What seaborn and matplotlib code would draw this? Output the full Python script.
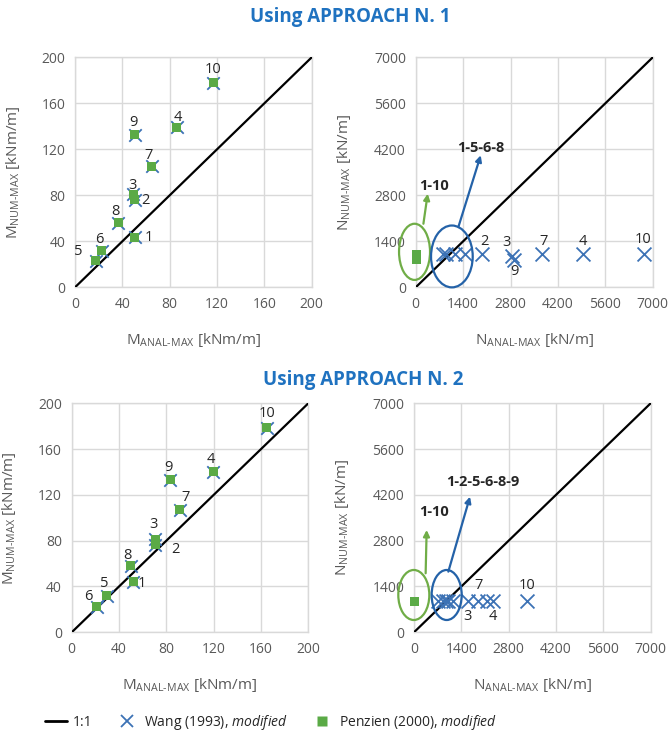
import matplotlib
matplotlib.use("Agg")
import matplotlib.pyplot as plt
import seaborn as sns
import pandas as pd
from matplotlib.patches import Ellipse
from matplotlib.lines import Line2D

# ---------------- data ----------------
case_ids = [1, 2, 3, 4, 5, 6, 7, 8, 9, 10]

# Approach 1 - bending moments
m_anal_a1 = [50.7, 50.7, 49.3, 85.9, 17.5, 22.5, 64.8, 36.6, 50.7, 116.9]
m_num_a1 = [43.5, 76.0, 81.0, 139.0, 22.9, 31.9, 105.5, 56.2, 132.5, 178.0]
# Approach 2 - bending moments
m_anal_a2 = [52.1, 70.4, 70.4, 119.7, 29.6, 21.1, 91.5, 50.1, 83.1, 164.8]
m_num_a2 = [44.3, 76.3, 81.2, 140.3, 31.7, 22.4, 106.8, 57.9, 133.0, 178.7]

# Approach 1 - axial forces
n_anal_wang_a1 = [800, 1950, 2850, 4950, 900, 1150, 3720, 1450, 2900, 6730]
n_anal_penz_a1 = [30, 30, 30, 30, 30, 30, 30, 30, 30, 30]
n_num_a1 = [1000, 1010, 960, 1000, 1000, 1000, 1000, 1000, 840, 1000]
# Approach 2 - axial forces
n_anal_wang_a2 = [720, 867, 1607, 2346, 940, 1015, 1902, 1163, 2151, 3333]
n_anal_penz_a2 = [30, 30, 30, 30, 30, 30, 30, 30, 30, 30]
n_num_a2 = [950, 950, 950, 950, 950, 950, 950, 950, 950, 950]

m_ticks = [0, 40, 80, 120, 160, 200]
n_ticks = [0, 1400, 2800, 4200, 5600, 7000]

titles = ["Using APPROACH N. 1", "Using APPROACH N. 2"]
m_xlabel = r"M$_{\mathrm{ANAL}\text{-}\mathrm{MAX}}$ [kNm/m]"
m_ylabel = r"M$_{\mathrm{NUM}\text{-}\mathrm{MAX}}$ [kNm/m]"
n_xlabel = r"N$_{\mathrm{ANAL}\text{-}\mathrm{MAX}}$ [kN/m]"
n_ylabel = r"N$_{\mathrm{NUM}\text{-}\mathrm{MAX}}$ [kN/m]"
legend_labels = ["1:1", r"Wang (1993), $\mathit{modified}$", r"Penzien (2000), $\mathit{modified}$"]

# ---------------- style ----------------
sns.set_theme(style="white")
plt.rcParams["font.family"] = ["Open Sans", "DejaVu Sans"]
plt.rcParams["mathtext.fontset"] = "custom"
plt.rcParams["mathtext.rm"] = "Open Sans"
plt.rcParams["mathtext.it"] = "Open Sans:italic"
plt.rcParams["mathtext.bf"] = "Open Sans:bold"

BLUE = "#3C72B5"
GREEN = "#5AAA46"
ELL_GREEN = "#70AD47"
ELL_BLUE = "#2462A8"
GRID = "#D9D9D9"
TXT = "#595959"
NUMC = "#262626"
TITLE_BLUE = "#1F72C0"

fig = plt.figure(figsize=(6.69, 7.39), dpi=100)

pos = {
    "tl": [0.1121, 0.6112, 0.3538, 0.3112],
    "tr": [0.6214, 0.6112, 0.3543, 0.3112],
    "bl": [0.1072, 0.1444, 0.3537, 0.3099],
    "br": [0.6188, 0.1444, 0.3538, 0.3099],
}

# label offsets in pixels (dx, dy)
off_m1 = {10: (0, 13), 9: (-2, 12), 4: (1, 10), 7: (-3, 11), 3: (-1, 9),
          2: (10, -1), 8: (-3, 11), 1: (14, 0), 6: (-2, 11), 5: (-17, 9)}
off_m2 = {10: (0, 14), 4: (-3, 12), 9: (-2, 12), 7: (6, 12), 3: (-2, 15),
          2: (20, -5), 8: (-4, 10), 1: (9, -2), 5: (-2, 12), 6: (-8, 10)}
off_n1 = {2: (3, 13), 3: (-6, 13), 9: (1, -12), 7: (2, 13), 4: (-1, 13), 10: (-1, 15)}
off_n2 = {7: (0, 16), 3: (-1, -15), 4: (0, -15), 10: (0, 16)}


def style_axes(ax, ticks, xlabel, ylabel, ylab_x):
    lim = ticks[-1]
    ax.set_xlim(0, lim)
    ax.set_ylim(0, lim)
    ax.set_xticks(ticks)
    ax.set_yticks(ticks)
    ax.grid(True, color=GRID, lw=1.0)
    ax.set_axisbelow(True)
    for s in ax.spines.values():
        s.set_color(GRID)
        s.set_linewidth(1.0)
    ax.tick_params(axis="both", length=0, labelsize=10, labelcolor=TXT, pad=7)
    ax.set_xlabel(xlabel, fontsize=11, color=TXT)
    ax.set_ylabel(ylabel, fontsize=11, color=TXT)
    ax.xaxis.set_label_coords(0.5, -0.19)
    ax.yaxis.set_label_coords(ylab_x, 0.5)


def one_to_one(ax, lim):
    sns.lineplot(x=[0, lim], y=[0, lim], ax=ax, color="black", lw=1.6, zorder=3)


def put_labels(ax, xs, ys, offs):
    for cid, x, y in zip(case_ids, xs, ys):
        if cid in offs:
            dx, dy = offs[cid]
            ax.annotate(str(cid), (x, y), xytext=(dx * 0.72, dy * 0.72),
                        textcoords="offset points", ha="center", va="center",
                        fontsize=10.5, color=NUMC, zorder=6)


def m_panel(key, xs, ys, offs):
    ax = fig.add_axes(pos[key])
    df = pd.DataFrame({"x": xs, "y": ys})
    one_to_one(ax, 200)
    sns.scatterplot(data=df, x="x", y="y", ax=ax, marker="x", color=BLUE,
                    s=80, linewidth=1.3, zorder=4)
    sns.scatterplot(data=df, x="x", y="y", ax=ax, marker="s", color=GREEN,
                    s=42, edgecolor="none", zorder=5)
    put_labels(ax, xs, ys, offs)
    style_axes(ax, m_ticks, m_xlabel, m_ylabel, -0.225)
    return ax


def n_panel(key, xw, xp, ys, offs, ells, arrows):
    ax = fig.add_axes(pos[key])
    one_to_one(ax, 7000)
    dfw = pd.DataFrame({"x": xw, "y": ys})
    dfp = pd.DataFrame({"x": xp, "y": ys})
    sns.scatterplot(data=dfw, x="x", y="y", ax=ax, marker="x", color=BLUE,
                    s=100, linewidth=1.3, zorder=4)
    sns.scatterplot(data=dfp, x="x", y="y", ax=ax, marker="s", color=GREEN,
                    s=42, edgecolor="none", zorder=5, clip_on=False)
    put_labels(ax, xw, ys, offs)
    for (cx, cy, w, h, col) in ells:
        ax.add_patch(Ellipse((cx, cy), w, h, fill=False, ec=col, lw=1.6,
                             zorder=6, clip_on=False))
    for (x0, y0, x1, y1, col, txt, tx, ty) in arrows:
        ax.annotate("", xy=(x1, y1), xytext=(x0, y0),
                    arrowprops=dict(arrowstyle="-|>", color=col, lw=1.6,
                                    mutation_scale=9, shrinkA=0, shrinkB=0),
                    zorder=6)
        ax.text(tx, ty, txt, ha="center", va="center", fontsize=10.5,
                fontweight="bold", color=NUMC, zorder=7)
    style_axes(ax, n_ticks, n_xlabel, n_ylabel, -0.265)
    return ax


m_panel("tl", m_anal_a1, m_num_a1, off_m1)
m_panel("bl", m_anal_a2, m_num_a2, off_m2)

n_panel("tr", n_anal_wang_a1, n_anal_penz_a1, n_num_a1, off_n1,
        ells=[(-35, 1080, 915, 1710, ELL_GREEN), (1068, 940, 1231, 1883, ELL_BLUE)],
        arrows=[(227, 1935, 354, 2850, ELL_GREEN, "1-10", 540, 3080),
                (1258, 1831, 1920, 4019, ELL_BLUE, "1-5-6-8", 1930, 4250)])
n_panel("br", n_anal_wang_a2, n_anal_penz_a2, n_num_a2, off_n2,
        ells=[(-5, 1140, 917, 1529, ELL_GREEN), (967, 1140, 888, 1529, ELL_BLUE)],
        arrows=[(345, 1804, 375, 3128, ELL_GREEN, "1-10", 580, 3680),
                (1016, 1854, 1657, 4146, ELL_BLUE, "1-2-5-6-8-9", 2030, 4580)])

fig.text(350 / 669, 1 - 17 / 739, titles[0], ha="center", va="center",
         fontsize=13.5, fontweight="bold", color=TITLE_BLUE)
fig.text(363 / 669, 1 - 380 / 739, titles[1], ha="center", va="center",
         fontsize=13.5, fontweight="bold", color=TITLE_BLUE)

handles = [
    Line2D([], [], color="black", lw=2),
    Line2D([], [], marker="x", ls="none", color=BLUE, markersize=9, mew=1.3),
    Line2D([], [], marker="s", ls="none", color=GREEN, markersize=7, mec="none"),
]
fig.legend(handles, legend_labels, loc="center", bbox_to_anchor=(0.405, 0.023),
           ncol=3, frameon=False, fontsize=10, handlelength=1.6,
           handletextpad=0.4, columnspacing=1.7, labelcolor="#262626")

fig.savefig("out.png", dpi=100)
